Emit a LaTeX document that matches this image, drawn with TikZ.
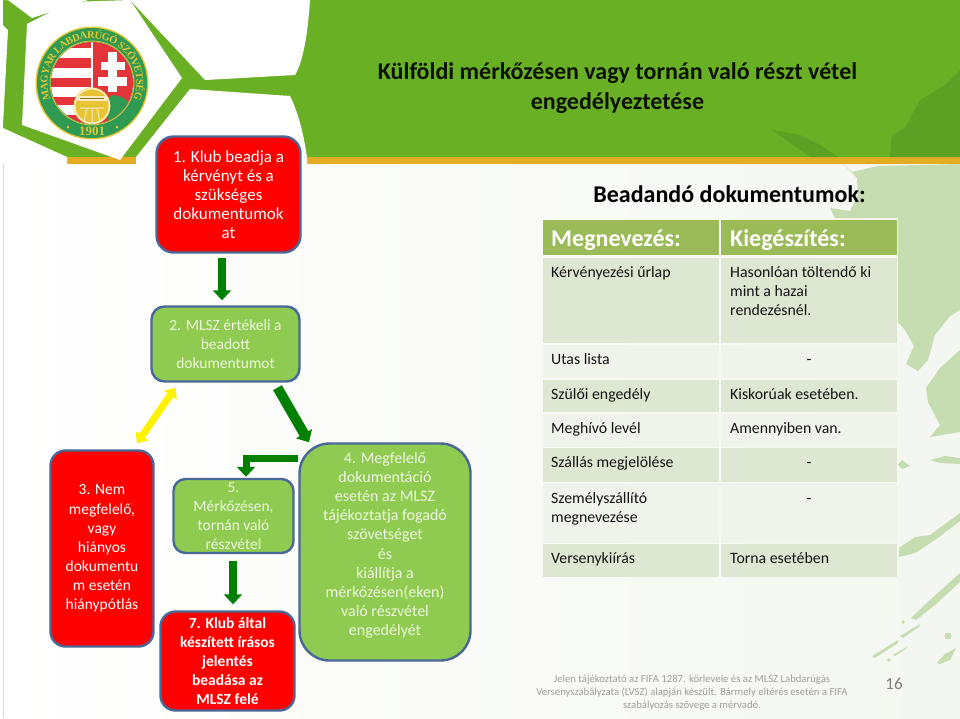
\documentclass[tikz,border=0pt]{standalone}
\usepackage{fontspec}
\setmainfont{Carlito}
\newfontfamily\crestfont{Liberation Serif}
\usetikzlibrary{arrows.meta,decorations.text}
\definecolor{band}{HTML}{6AB025}
\definecolor{bandmap}{HTML}{5CA123}
\definecolor{gold}{HTML}{E3AC22}
\definecolor{mapc}{HTML}{C6DDB2}
\definecolor{edgeb}{HTML}{4A6897}
\definecolor{boxg}{HTML}{8FCB50}
\definecolor{boxr}{HTML}{FF0000}
\definecolor{paletext}{HTML}{EEF6E0}
\definecolor{arrowg}{HTML}{008000}
\definecolor{hdr}{HTML}{9BBB59}
\definecolor{rowa}{HTML}{DEE7D1}
\definecolor{rowb}{HTML}{EFF3EA}
\definecolor{crestg}{HTML}{2E9A52}
\definecolor{crestr}{HTML}{E3343A}
\definecolor{crestgold}{HTML}{E6C433}
\tikzset{
  flowbox/.style={draw=edgeb,line width=2.4pt,align=center,inner sep=0pt,
    font=\fontsize{15.5}{19.1}\selectfont},
  redbox/.style={flowbox,fill=boxr,text=white},
  greenbox/.style={flowbox,fill=boxg,text=paletext},
  fatarrow/.style={draw=arrowg,line width=8pt,-{Triangle[width=18pt,length=10pt]}},
  yellowarrow/.style={draw=yellow,line width=7pt,{Triangle[width=15pt,length=9pt]}-{Triangle[width=15pt,length=9pt]}},
  tcell/.style={anchor=north west,inner sep=0pt},
  ttext/.style={anchor=base west,inner sep=0pt,text=black!92,font=\fontsize{15.8}{19}\selectfont,align=left},
  thead/.style={anchor=base west,inner sep=0pt,text=white,font=\bfseries\fontsize{24}{26}\selectfont},
}
\newcommand{\cellbox}[6]{\node[tcell,fill=#6,minimum width=#4pt,minimum height=#5pt] (#1) at (#2,#3) {};}
\begin{document}
\begin{tikzpicture}[x=1pt,y=-1pt]
\useasboundingbox (0,0) rectangle (960,718);
% background
\shade[left color=white,right color=rowb!70!white] (0,0) rectangle (960,718);
\fill[white] (0,0) rectangle (3,718);
\draw[black!15,line width=0.6pt] (3.3,0) -- (3.3,718);
% light map
\fill[mapc] (843,164) -- (852,172) -- (878,166) -- (960,164) -- (960,310) -- (950,316) -- (935,335) -- (928,360) -- (918,371) -- (906,364) -- (914,346) -- (905,330) -- (898,322) -- (898,218) -- (835,218) -- (830,208) -- (850,211) -- (858,195) -- (857,178) -- cycle;
\fill[mapc] (960,350) -- (940,368) -- (926,388) -- (928,402) -- (940,425) -- (930,437) -- (960,432) -- cycle;
\fill[mapc] (930,460) -- (945,456) -- (960,458) -- (960,464) -- (940,463) -- cycle;
\fill[mapc] (898,465) -- (902,460) -- (910,466) -- (902,469) -- cycle;
\fill[mapc] (899,548) -- (915,537) -- (930,535) -- (960,513) -- (960,521) -- (935,540) -- (915,553) -- (899,557) -- cycle;
\fill[mapc] (911,618) -- (930,600) -- (960,573) -- (960,582) -- (935,605) -- (916,620) -- cycle;
\fill[mapc] (900,636) -- (920,624) -- (919,627) -- (903,638) -- cycle;
\fill[mapc] (872,656) -- (877,653) -- (898,640) -- (898,643) -- (878,656) -- (874,658) -- cycle;
\fill[mapc] (893,655) -- (907,647) -- (906,649) -- (895,656) -- cycle;
\fill[mapc] (948,636) circle[radius=3.5];
\fill[mapc] (889,660) circle[radius=1.8];
\fill[mapc] (903,622) circle[radius=1.8];
\fill[mapc] (937,663) -- (945,654) -- (956,648) -- (950,660) -- (940,664) -- cycle;
% header band
\fill[band] (3,0) rectangle (960,157);
\fill[gold] (67,157) rectangle (136,164);
\fill[gold] (307,157) rectangle (960,164);
\fill[bandmap] (773,130) -- (800,135) -- (820,145) -- (838,157) -- (810,157) -- (790,143) -- cycle;
\fill[bandmap] (890,157) -- (892,135) -- (905,128) -- (920,100) -- (945,85) -- (960,70) -- (960,157) -- cycle;
% football panels
\fill[white] (3,0) -- (8,0) -- (32,18) -- (88,0) -- cycle;
\fill[white] (3,25) -- (8,30) -- (3,125) -- cycle;
\fill[white] (27,24) -- (70,2) -- (130,0) -- (182,78) -- (120,160) -- (22,125) -- cycle;
\fill[white] (130,0) -- (310,0) .. controls (308,30) and (304,60) .. (295,75) -- (205,80) -- cycle;
\fill[white] (190,89) -- (290,96) .. controls (297,110) and (303,130) .. (307,157) -- (307,164) -- (136,164) -- (136,157) -- cycle;
\fill[white] (3,128) -- (67,157) -- (67,164) -- (3,164) -- cycle;
% crest
\fill[crestgold] (92,83) circle[radius=56.5];
\fill[crestg] (92,83) circle[radius=55];
\begin{scope}
  \clip (92,83) circle[radius=41];
  \fill[white] (50,40) rectangle (134,126);
  \fill[crestr] (50,40) rectangle (91,48);
  \fill[crestr] (50,58) rectangle (91,68);
  \fill[crestr] (50,78) rectangle (91,87);
  \fill[crestr] (50,97) rectangle (91,105);
  \fill[crestr] (50,115) rectangle (91,126);
  \fill[crestr] (93,40) rectangle (134,126);
  \fill[white] (108,52) rectangle (117,92);
  \fill[white] (101,62) rectangle (125,70);
  \fill[white] (98,77) rectangle (127,86);
  \fill[crestg] (108,98) -- (113,95) -- (122,97) -- (134,106) -- (134,126) -- (108,126) -- cycle;
\end{scope}
\draw[crestgold,line width=0.8pt] (92,83) circle[radius=42];
\fill[crestgold] (92,106) circle[radius=18.5];
\draw[white!70!crestgold,line width=1.6pt] (92,106) circle[radius=17.3];
\fill[white!70!crestgold] (77,96) rectangle (107,101);
\draw[crestgold!60!black,line width=0.5pt] (80,98.5) -- (104,98.5);
\draw[white!70!crestgold,line width=1pt] (84,122) -- (87,108) (92,124) -- (92,108) (100,122) -- (97,108) (80,108) -- (104,108);
\path[decorate,decoration={text along path,text align=center,raise=-3.5pt,
   text={|\crestfont\bfseries\fontsize{10.5}{12}\selectfont\color{crestgold}|MAGYAR LABDARÚGÓ SZÖVETSÉG}}]
   plot[domain=125:415,samples=60] ({92+48*cos(\x)},{83+48*sin(\x)});
\node[inner sep=0pt,text=crestgold,font=\crestfont\bfseries\fontsize{13}{13}\selectfont] (year) at (92,131) {1901};
\fill[crestgold] (68,127) circle[radius=1.5] (117,127) circle[radius=1.5];
% title
\node[inner sep=0pt,align=center,text=black!90!band,font=\bfseries\fontsize{24}{30}\selectfont] (title) at (617.5,88) {Külföldi mérkőzésen vagy tornán való részt vétel\\engedélyeztetése};
\node[inner sep=0pt,text=black,font=\bfseries\fontsize{24}{28}\selectfont] (doctitle) at (729.5,194) {Beadandó dokumentumok:};
% table
\cellbox{h1}{543}{220}{176}{35}{hdr}
\cellbox{h2}{721}{220}{176}{35}{hdr}
\cellbox{a1}{543}{258}{176}{85}{rowa}
\cellbox{a2}{721}{258}{176}{85}{rowa}
\cellbox{b1}{543}{345}{176}{33}{rowb}
\cellbox{b2}{721}{345}{176}{33}{rowb}
\cellbox{c1}{543}{380}{176}{32}{rowa}
\cellbox{c2}{721}{380}{176}{32}{rowa}
\cellbox{d1}{543}{414}{176}{33}{rowb}
\cellbox{d2}{721}{414}{176}{33}{rowb}
\cellbox{e1}{543}{448}{176}{34}{rowa}
\cellbox{e2}{721}{448}{176}{34}{rowa}
\cellbox{f1}{543}{483}{176}{60}{rowb}
\cellbox{f2}{721}{483}{176}{60}{rowb}
\cellbox{g1}{543}{544}{176}{33}{rowa}
\cellbox{g2}{721}{544}{176}{33}{rowa}
\node[thead] (t1) at (551,246) {Megnevezés:};
\node[thead] (t2) at (730,246) {Kiegészítés:};
\node[ttext] (t3) at (551,277) {Kérvényezési űrlap};
\node[ttext] (t4) at (730,277) {Hasonlóan töltendő ki};
\node[ttext] (t5) at (730,296) {mint a hazai};
\node[ttext] (t6) at (730,315) {rendezésnél.};
\node[ttext] (t7) at (551,364) {Utas lista};
\node[ttext] (t8) at (806.5,364) {-};
\node[ttext] (t9) at (551,399) {Szülői engedély};
\node[ttext] (t10) at (730,399) {Kiskorúak esetében.};
\node[ttext] (t11) at (551,433) {Meghívó levél};
\node[ttext] (t12) at (730,433) {Amennyiben van.};
\node[ttext] (t13) at (551,467) {Szállás megjelölése};
\node[ttext] (t14) at (806.5,467) {-};
\node[ttext] (t15) at (551,503) {Személyszállító};
\node[ttext] (t16) at (551,522) {megnevezése};
\node[ttext] (t17) at (806.5,503) {-};
\node[ttext] (t18) at (551,563) {Versenykiírás};
\node[ttext] (t19) at (730,563) {Torna esetében};
% boxes
\node[redbox,minimum width=144pt,minimum height=116pt,rounded corners=17pt,font=\fontsize{17}{19.1}\selectfont] (n1) at (228.5,194.5) {1. Klub beadja a\\kérvényt és a\\szükséges\\dokumentumok\\at};
\node[greenbox,minimum width=148pt,minimum height=75pt,rounded corners=13pt] (n2) at (225.5,344) {2. MLSZ értékeli a\\beadott\\dokumentumot};
\node[redbox,minimum width=103pt,minimum height=196pt,rounded corners=15pt] (n3) at (102,548.5) {3. Nem\\megfelelő,\\vagy\\hiányos\\dokumentu\\m esetén\\hiánypótlás};
\node[greenbox,minimum width=171pt,minimum height=217pt,rounded corners=30pt,font=\fontsize{16}{19.1}\selectfont] (n4) at (385,552) {4. Megfelelő\\dokumentáció\\esetén az MLSZ\\tájékoztatja fogadó\\szövetséget\\és\\kiállítja a\\mérkőzésen(eken)\\való részvétel\\engedélyét\\[-3pt]\mbox{}};
\node[greenbox,minimum width=120pt,minimum height=74pt,rounded corners=12pt] (n5) at (233.5,516) {5.\\Mérkőzésen,\\tornán való\\részvétel};
\node[redbox,minimum width=134pt,minimum height=99pt,rounded corners=15pt,font=\bfseries\fontsize{15.5}{19.1}\selectfont] (n7) at (227.5,661) {7. Klub által\\készített írásos\\jelentés\\beadása az\\MLSZ felé};
% connectors
\coordinate (a1s) at ([xshift=-6.5pt,yshift=-4pt]n1.south);
\coordinate (a1e) at ([xshift=-3.5pt,yshift=5pt]n2.north);
\draw[fatarrow] (a1s) -- (a1e);
\coordinate (a2s) at ([xshift=52pt,yshift=-5pt]n2.south);
\coordinate (a2e) at ([xshift=-76pt,yshift=0pt]n4.north);
\draw[fatarrow,line width=10pt] (a2s) -- (a2e);
\coordinate (a3s) at ([xshift=-50pt,yshift=-5pt]n2.south);
\coordinate (a3e) at ([xshift=35pt,yshift=6pt]n3.north);
\draw[yellowarrow] (a3s) -- (a3e);
\coordinate (a4s) at ([yshift=-20pt]n4.north west);
\coordinate (a4e) at ([xshift=12.5pt,yshift=1pt]n5.north);
\draw[fatarrow,line width=7pt] (a4s |- 0,458) -- (a4e |- 0,458) -- (a4e);
\coordinate (a5s) at ([xshift=-0.5pt,yshift=-7pt]n5.south);
\coordinate (a5e) at ([xshift=5.5pt,yshift=6pt]n7.north);
\draw[fatarrow] (a5s) -- (a5e);
% footer
\node[inner sep=0pt,align=center,text=black!38,font=\fontsize{10.7}{13}\selectfont] (foot) at (692,693) {Jelen tájékoztató az FIFA 1287. körlevele és az MLSZ Labdarúgás\\Versenyszabályzata (LVSZ) alapján készült. Bármely eltérés esetén a FIFA\\szabályozás szövege a mérvadó.};
\node[inner sep=0pt,text=black!50,font=\fontsize{17}{17}\selectfont] (page) at (894,684) {16};
\end{tikzpicture}
\end{document}
